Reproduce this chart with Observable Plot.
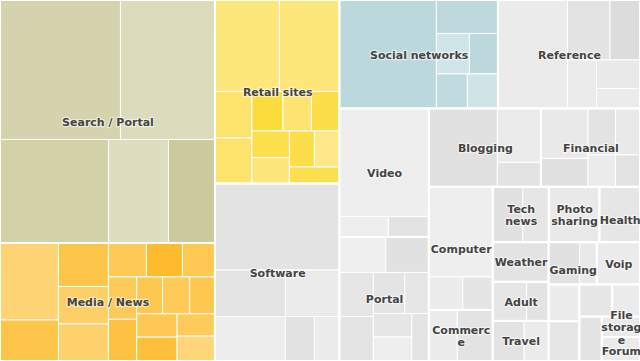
<!DOCTYPE html>
<html>
<head>
<meta charset="utf-8">
<script src="https://cdn.jsdelivr.net/npm/d3@7"></script>
<script src="https://cdn.jsdelivr.net/npm/@observablehq/plot@0.6"></script>
<style>
  html, body { margin: 0; padding: 0; background: #fff; }
  #chart { width: 640px; height: 361px; overflow: hidden; }
</style>
</head>
<body>
<div id="chart"></div>
<script>
// ---- data -------------------------------------------------------------
const groups = ["Search / Portal", "Media / News", "Retail sites", "Software", "Social networks",
  "Reference", "Video", "Portal", "Blogging", "Financial", "Computer", "Commerce", "Tech news",
  "Photo sharing", "Health", "Weather", "Adult", "Travel", "Gaming", "Voip",
  "", "", "", "", "", "File storage", "Forum"];

// label text as it is wrapped in the picture
const labels = ["Search / Portal", "Media / News", "Retail sites", "Software", "Social networks",
  "Reference", "Video", "Portal", "Blogging", "Financial", "Computer", "Commerc\ne", "Tech\nnews",
  "Photo\nsharing", "Health", "Weather", "Adult", "Travel", "Gaming", "Voip",
  "", "", "", "", "", "File\nstorag\ne", "Forum"];

// leaf sizes, one list per group
const values = [
  [16810, 13183, 11230, 6210, 4813],
  [4505, 2399, 2175, 1875, 1850, 1292, 1224, 1105, 1200, 1180, 950, 1000, 930, 943, 964, 847, 943],
  [5902, 5490, 1721, 1684, 1225, 1126, 1106, 994, 975, 900, 900, 825],
  [10769, 3278, 3137, 2511, 1291, 1113],
  [10525, 2060, 1337, 1154, 1070, 1052],
  [7541, 2550, 1800, 1407, 1240, 870],
  [9666, 1005, 830],
  [1651, 1527, 1496, 1513, 1292, 984, 905, 924, 808],
  [5377, 2349, 1066],
  [2350, 1340, 1279, 1139, 880, 784],
  [5760, 1122, 990],
  [1454, 1810],
  [1665, 1443],
  [2803],
  [2248],
  [2212],
  [1326, 858],
  [1260, 980],
  [1318, 722],
  [1828],
  [1132], [1225], [1056], [894], [1000],
  [780],
  [917]
];

// leaf colour metric (0 = light, 1 = dark), one list per group
const tones = [
  [0.48, 0.13, 0.6, 0.03, 0.9],
  [0.13, 0.63, 0.63, 0.3, 0.23, 0.5, 0.97, 0.53, 0.43, 0.73, 0.57, 0.47, 0.57, 0.53, 0.83, 0.43, 0.07],
  [0.23, 0.23, 0.4, 0.4, 0.91, 0.34, 0.78, 0.74, 0.21, 0.76, 0.05, 0.71],
  [0.63, 0.58, 0.1, 0.21, 0.68, 0.16],
  [0.8, 0.75, 0.1, 0.78, 0.65, 0.15],
  [0.21, 0.63, 1, 0.21, 0.32, 0.21],
  [0.05, 0.05, 0.63],
  [0, 0.74, 0.47, 0.58, 0.58, 0.47, 0.47, 0.05, 0.58],
  [0.74, 0.21, 0.63],
  [0.32, 0.74, 0.63, 0.32, 0.21, 0.63],
  [0.05, 0.16, 0.53],
  [0.16, 0.63],
  [0.74, 0.47],
  [0.32],
  [0.47],
  [0.63],
  [0.47, 0.63],
  [0.63, 0.21],
  [0.74, 0.32],
  [0.21],
  [0.16], [0.47], [0.47], [0.21], [0.63],
  [0.32],
  [0.21]
];

// ---- styles -----------------------------------------------------------
const palette = {
  "Search / Portal": ["#dfdec0", "#cac898"],
  "Media / News": ["#fed87f", "#feba2c"],
  "Retail sites": ["#fee98f", "#fadb34"],
  "Social networks": ["#d3e7ea", "#b5d4d9"]
};
const grayPalette = ["#efefef", "#dcdcdc"];
// labels nudged down to avoid neighbouring labels, as in the picture
const labelShift = {"Gaming": 6, "Health": 5, "Forum": 2};

// ---- layout -----------------------------------------------------------
const W = 640, H = 361;
const tree = {
  name: "root",
  children: groups.map((g, i) => ({
    name: g, gi: i,
    children: values[i].map((v, j) => ({name: g + "#" + j, gi: i, value: v, tone: tones[i][j]}))
  }))
};
const root = d3.hierarchy(tree).sum(d => d.value || 0);
d3.treemap().size([W, H]).tile(d3.treemapSquarify.ratio(1))(root);

const leaves = root.leaves().map(n => {
  const g = groups[n.data.gi];
  const pal = palette[g] || grayPalette;
  return {x1: n.x0, x2: n.x1, y1: n.y0, y2: n.y1, fill: d3.interpolateRgb(pal[0], pal[1])(n.data.tone)};
});
const groupBoxes = root.children.map(n => ({
  x1: n.x0, x2: n.x1, y1: n.y0, y2: n.y1,
  cx: (n.x0 + n.x1) / 2,
  cy: (n.y0 + n.y1) / 2 + (labelShift[groups[n.data.gi]] || 0),
  label: labels[n.data.gi]
}));

const chart = Plot.plot({
  width: W, height: H,
  margin: 0,
  x: {domain: [0, W], range: [0, W], axis: null},
  y: {domain: [0, H], range: [0, H], axis: null},
  style: {background: "#fff"},
  marks: [
    Plot.rect(leaves, {x1: "x1", x2: "x2", y1: "y1", y2: "y2", fill: d => d.fill, stroke: "#fff", strokeWidth: 1}),
    Plot.rect(groupBoxes, {x1: "x1", x2: "x2", y1: "y1", y2: "y2", fill: "none", stroke: "#fff", strokeWidth: 2}),
    Plot.text(groupBoxes.filter(d => d.label), {
      x: "cx", y: "cy", text: "label",
      fontFamily: "'DejaVu Sans', Verdana, sans-serif", fontSize: 11, fontWeight: "bold",
      fill: "#444", stroke: "#fff", strokeOpacity: 0.55, strokeWidth: 2.5,
      lineHeight: 1.12, textAnchor: "middle"
    })
  ]
});
document.getElementById("chart").appendChild(chart);
</script>
</body>
</html>
